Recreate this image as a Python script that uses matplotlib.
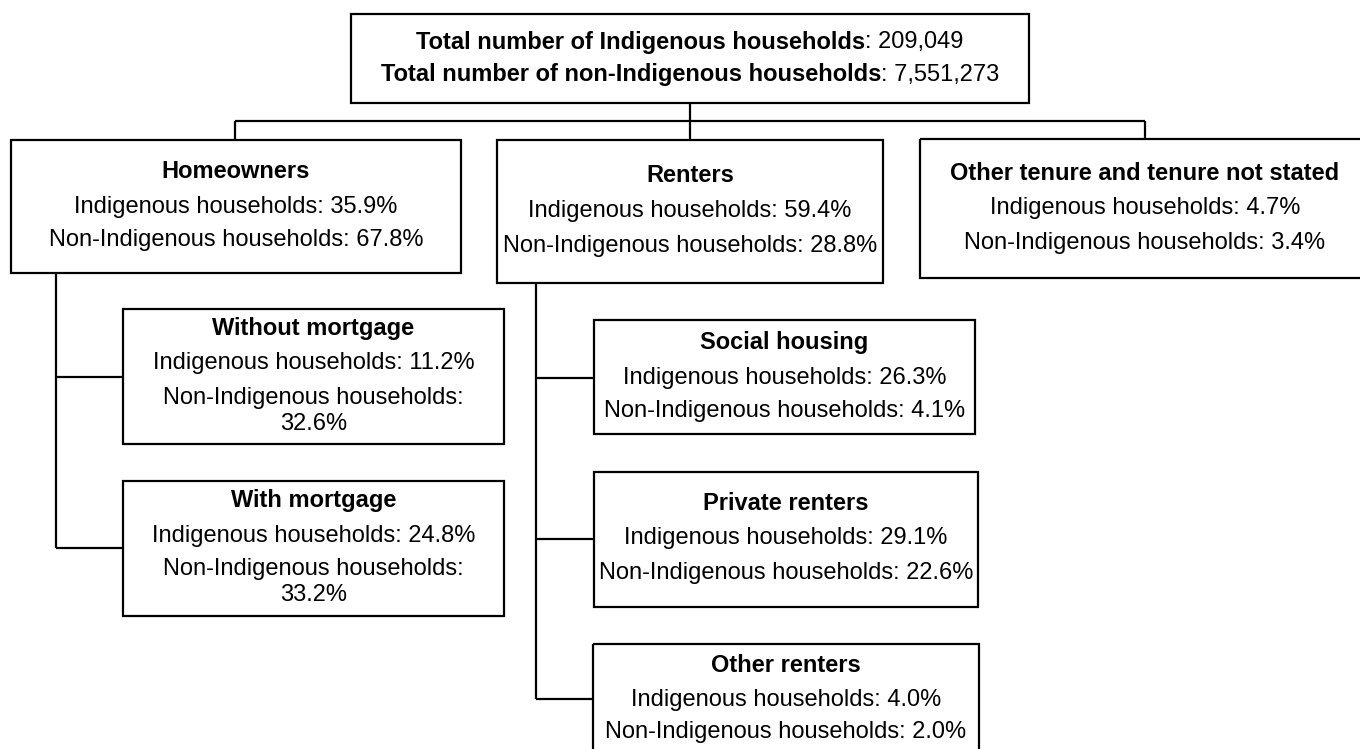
import matplotlib
matplotlib.use('Agg')
import matplotlib.pyplot as plt
from matplotlib.patches import Rectangle

plt.rcParams['font.family'] = ['Liberation Sans', 'DejaVu Sans']

# data
total_labels = ['Total number of Indigenous households', 'Total number of non-Indigenous households']
total_values = ['209,049', '7,551,273']

groups = ['Homeowners', 'Renters', 'Other tenure and tenure not stated',
          'Without mortgage', 'With mortgage',
          'Social housing', 'Private renters', 'Other renters']
indig_pct = [35.9, 59.4, 4.7, 11.2, 24.8, 26.3, 29.1, 4.0]
nonindig_pct = [67.8, 28.8, 3.4, 32.6, 33.2, 4.1, 22.6, 2.0]

# layout (pixels): box x0, y0, x1, y1, text line y's, wrap second line
boxes = {
    'Homeowners': (11, 140, 461, 273, [172, 207, 240], False),
    'Renters': (497, 140, 883, 283, [175, 211, 246], False),
    'Other tenure and tenure not stated': (920, 139, 1370, 278, [174, 208, 243], False),
    'Without mortgage': (123, 309, 504, 444, [329, 363, 398, 424], True),
    'With mortgage': (123, 481, 504, 616, [501, 536, 569, 595], True),
    'Social housing': (594, 320, 975, 434, [343, 378, 411], False),
    'Private renters': (594, 472, 978, 607, [504, 538, 573], False),
    'Other renters': (593, 644, 979, 765, [665, 700, 732], False),
}

fs = 17
lw = 1.6

fig = plt.figure(figsize=(13.6, 7.49), dpi=100)
ax = fig.add_axes([0, 0, 1, 1])
ax.set_xlim(0, 1360)
ax.set_ylim(749, 0)
ax.axis('off')


def box(x0, y0, x1, y1):
    ax.add_patch(Rectangle((x0, y0), x1 - x0, y1 - y0, fill=False, ec='black', lw=lw))


def line(xs, ys):
    ax.plot(xs, ys, color='black', lw=lw, solid_capstyle='butt')


# top box
box(351, 14, 1029, 103)
fig.canvas.draw()
r = fig.canvas.get_renderer()
for lab, val, y in zip(total_labels, total_values, [42, 75]):
    t1 = ax.text(0, y, lab, fontsize=fs, fontweight='bold', ha='left', va='center')
    t2 = ax.text(0, y, ': ' + val, fontsize=fs, ha='left', va='center')
    w1 = t1.get_window_extent(r).width
    w2 = t2.get_window_extent(r).width
    x0 = 690 - (w1 + w2) / 2
    t1.set_x(x0)
    t2.set_x(x0 + w1)

# category boxes
for name, ind, non in zip(groups, indig_pct, nonindig_pct):
    x0, y0, x1, y1, ys, wrap = boxes[name]
    box(x0, y0, x1, y1)
    cx = (x0 + x1) / 2
    if cx > 1100:
        cx = 1145
    lines = [name, f'Indigenous households: {ind}%']
    if wrap:
        lines += ['Non-Indigenous households:', f'{non}%']
    else:
        lines += [f'Non-Indigenous households: {non}%']
    for i, (txt, y) in enumerate(zip(lines, ys)):
        ax.text(cx, y, txt, fontsize=fs, ha='center', va='center',
                fontweight='bold' if i == 0 else 'normal')

# connectors
line([690, 690], [103, 121])
line([235, 1145], [121, 121])
line([235, 235], [121, 140])
line([690, 690], [121, 140])
line([1145, 1145], [121, 139])

line([56, 56], [273, 548])
line([56, 123], [377, 377])
line([56, 123], [548, 548])

line([536, 536], [283, 699])
line([536, 594], [378, 378])
line([536, 594], [539, 539])
line([536, 593], [699, 699])

fig.savefig('out.png', dpi=100, facecolor='white')
